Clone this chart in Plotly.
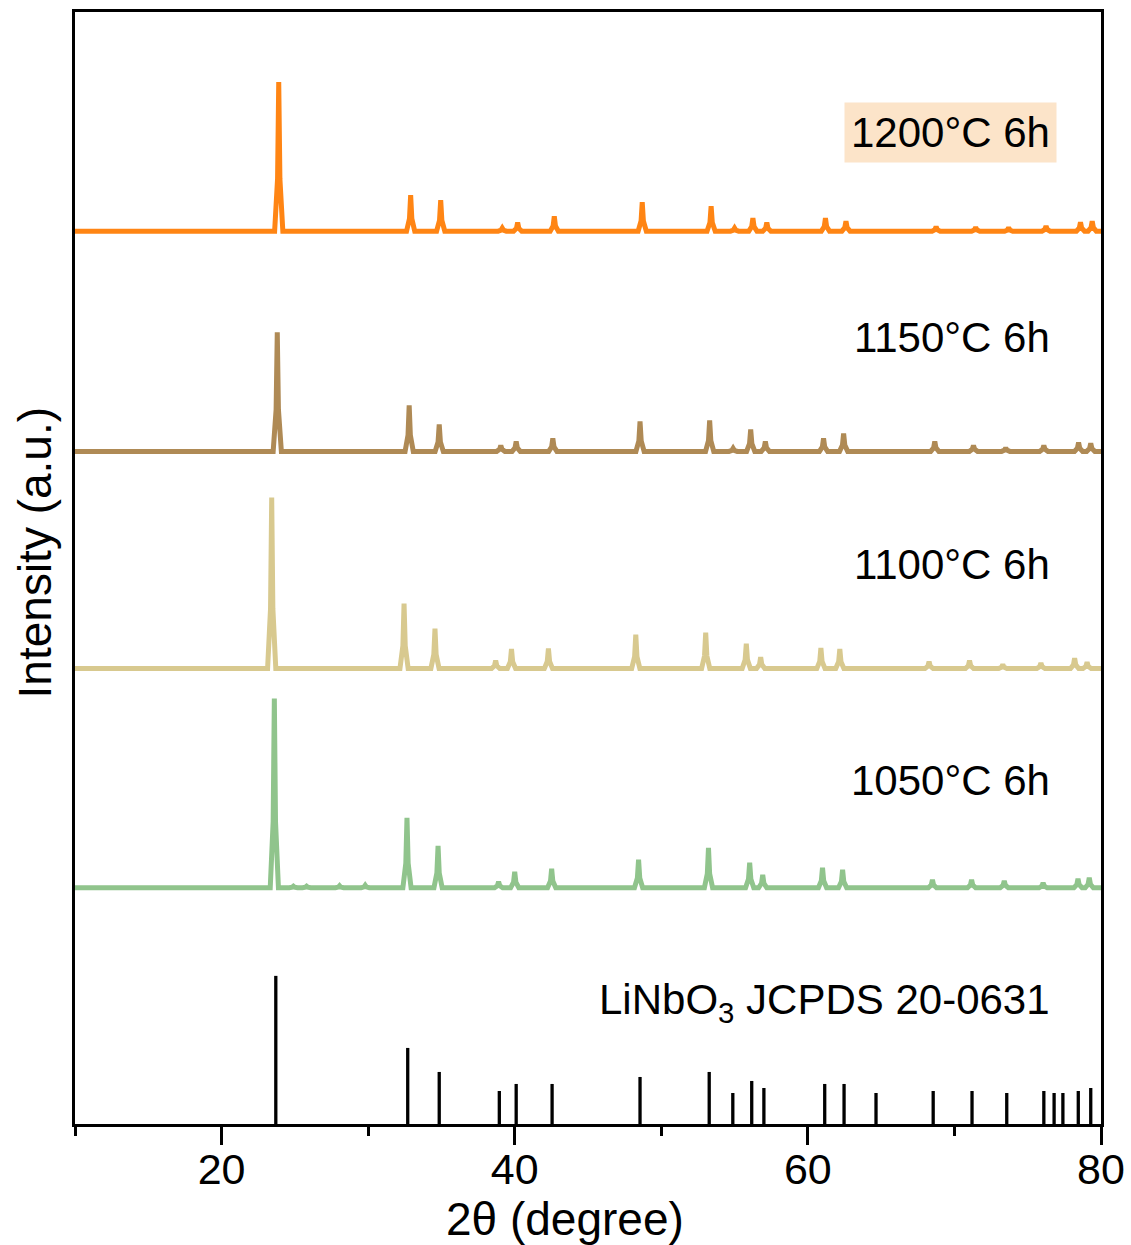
import plotly.graph_objects as go

# ---- data -----------------------------------------------------------------
# 2theta range of the scans (degree)
scan_start, scan_end = 10.0, 80.0

# Reference stick pattern, LiNbO3 JCPDS 20-0631 (relative heights)
ref_pos = [23.7, 32.7, 34.85, 38.95, 40.1, 42.55, 48.55, 53.27, 54.88, 56.17,
           57.0, 61.15, 62.47, 64.65, 68.55, 71.2, 73.57, 76.1, 76.8, 77.4,
           78.45, 79.3]
ref_int = [148, 76, 52, 33, 40, 40, 47, 52, 31, 43,
           36, 40, 40, 31, 33, 33, 31, 33, 31, 31,
           33, 36]

# Peak lists of the measured patterns (position, intensity a.u.)
pos_1050 = [24.9, 25.8, 28.05, 29.8, 23.6, 32.65, 34.77, 38.9, 40.0, 42.52,
            48.45, 53.22, 56.03, 56.92, 61.0, 62.37, 68.5, 71.17, 73.4, 76.05,
            78.43, 79.2]
int_1050 = [1.5, 1.5, 2, 2.5, 189, 70, 42, 6, 16, 19,
            28, 40, 25, 13, 20, 18, 8, 8, 7, 5,
            9, 10]

pos_1100 = [23.42, 32.45, 34.56, 38.7, 39.78, 42.3, 48.26, 53.03, 55.8, 56.78,
            60.89, 62.18, 68.27, 71.03, 73.3, 75.9, 78.2, 79.05]
int_1100 = [171, 65, 40, 8, 19.5, 20, 34, 36, 25, 11.5,
            20.5, 19.5, 7, 8, 4, 5.6, 10.5, 6.3]

pos_1150 = [23.8, 32.8, 34.85, 39.05, 40.1, 42.6, 48.55, 53.3, 54.9, 56.1,
            57.1, 61.07, 62.44, 68.66, 71.3, 73.5, 76.1, 78.47, 79.3]
int_1150 = [119, 46, 27, 6, 10, 13, 30, 31, 3, 22,
            10, 13, 18, 10, 6, 3.5, 6, 9, 8]

pos_1200 = [23.9, 32.9, 34.95, 39.15, 40.2, 42.7, 48.7, 53.4, 55.0, 56.25,
            57.2, 61.2, 62.6, 68.75, 71.45, 73.7, 76.25, 78.6, 79.4]
int_1200 = [149, 36, 31, 3, 8.6, 15, 29, 25, 3, 13,
            8.6, 13, 10, 4.5, 3.8, 3.4, 5, 9, 10]

# vertical stacking offsets of the patterns (a.u.)
offset_1050, offset_1100, offset_1150, offset_1200 = 236, 455, 672, 892

sample_labels = ["1200°C 6h", "1150°C 6h", "1100°C 6h", "1050°C 6h"]
ref_label = "LiNbO<sub>3</sub> JCPDS 20-0631"

# ---- styling --------------------------------------------------------------
FONT = "Arial, Liberation Sans, sans-serif"
PEAK_HALF_BASE = 0.28   # half-width of a peak foot (degree)

colors = {
    "1200": "#FF8514",
    "1150": "#AF8A55",
    "1100": "#D8C98F",
    "1050": "#90C48C",
}


def pattern_xy(positions, heights, offset):
    """Polyline of a diffraction pattern: flat baseline with a spike per peak."""
    peaks = sorted(zip(positions, heights))
    xs, ys = [scan_start], [offset]
    for p, h in peaks:
        xs += [p - PEAK_HALF_BASE, p - 0.08, p, p + 0.08, p + PEAK_HALF_BASE]
        ys += [offset, offset + 0.35 * h, offset + h, offset + 0.35 * h, offset]
    xs.append(scan_end)
    ys.append(offset)
    return xs, ys


fig = go.Figure()

for key, pos, inten, off in [
    ("1050", pos_1050, int_1050, offset_1050),
    ("1100", pos_1100, int_1100, offset_1100),
    ("1150", pos_1150, int_1150, offset_1150),
    ("1200", pos_1200, int_1200, offset_1200),
]:
    xs, ys = pattern_xy(pos, inten, off)
    fig.add_trace(go.Scatter(
        x=xs, y=ys, mode="lines",
        line=dict(color=colors[key], width=5, shape="linear", simplify=False),
        hoverinfo="skip", showlegend=False,
    ))

# reference sticks
stick_x, stick_y = [], []
for p, h in zip(ref_pos, ref_int):
    stick_x += [p, p, None]
    stick_y += [0, h, None]
fig.add_trace(go.Scatter(
    x=stick_x, y=stick_y, mode="lines",
    line=dict(color="black", width=3.3, simplify=False),
    hoverinfo="skip", showlegend=False,
))

# ---- labels ---------------------------------------------------------------
label_y = [0.8917, 0.7075, 0.5032, 0.3087]
for text, yv in zip(sample_labels, label_y):
    fig.add_annotation(
        xref="paper", yref="paper", x=0.957, y=yv,
        xanchor="right", yanchor="middle",
        text=text, showarrow=False,
        font=dict(family=FONT, size=42, color="black"),
        bgcolor="#FCE4C9" if text.startswith("1200") else "rgba(0,0,0,0)",
        borderpad=6,
    )

fig.add_annotation(
    xref="paper", yref="paper", x=0.957, y=0.109,
    xanchor="right", yanchor="middle",
    text=ref_label, showarrow=False,
    font=dict(family=FONT, size=42, color="black"),
    borderpad=6,
)

# axis titles
fig.add_annotation(
    xref="paper", yref="paper", x=0.4776, y=-0.0855,
    xanchor="center", yanchor="middle",
    text="2θ (degree)", showarrow=False,
    font=dict(family=FONT, size=46, color="black"),
)
fig.add_annotation(
    xref="paper", yref="paper", x=-0.039, y=0.514,
    xanchor="center", yanchor="middle", textangle=-90,
    text="Intensity (a.u.)", showarrow=False,
    font=dict(family=FONT, size=46, color="black"),
)

fig.update_layout(
    width=1131, height=1245,
    margin=dict(l=75, r=30, t=12, b=121, autoexpand=False),
    paper_bgcolor="white", plot_bgcolor="white",
    font=dict(family=FONT, color="black"),
)

fig.update_xaxes(
    range=[scan_start, scan_end], automargin=False,
    showgrid=False, zeroline=False,
    showline=True, linecolor="black", linewidth=2.5, mirror=True,
    ticks="outside", ticklen=18, tickwidth=2.5, tickcolor="black",
    tick0=0, dtick=20,
    minor=dict(ticks="outside", ticklen=9, tickwidth=2.5, tickcolor="black",
               tick0=0, dtick=10, showgrid=False),
    tickfont=dict(family=FONT, size=43, color="black"),
    ticklabelstandoff=-12,
)
fig.update_yaxes(
    range=[0, 1111], automargin=False,
    showgrid=False, zeroline=False,
    showline=True, linecolor="black", linewidth=2.5, mirror=True,
    ticks="", showticklabels=False,
)

fig.write_html("out.html")
